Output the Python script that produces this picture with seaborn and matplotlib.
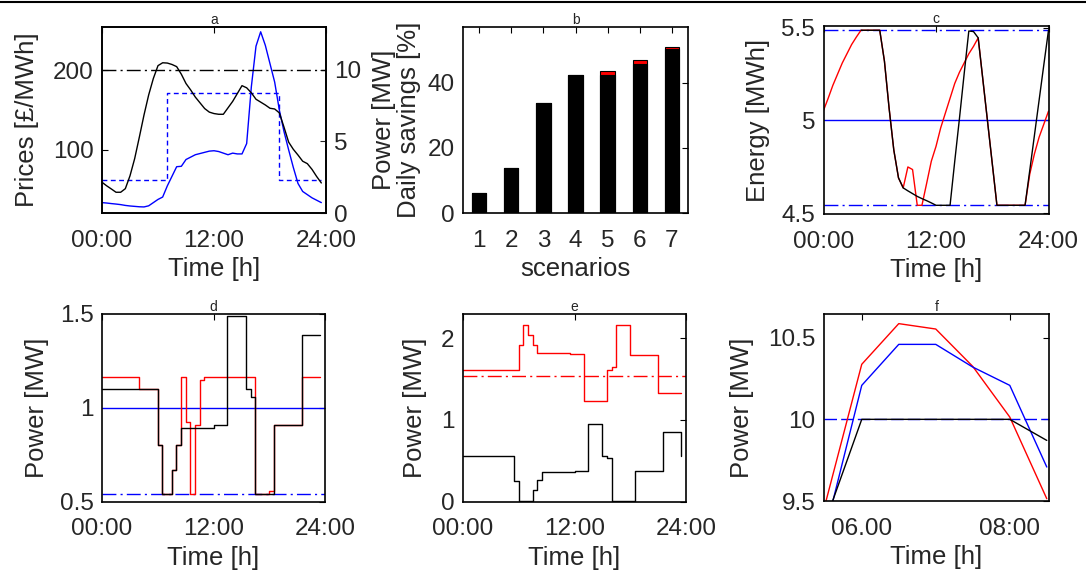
import numpy as np
import matplotlib
matplotlib.use("Agg")
import matplotlib.pyplot as plt
from matplotlib.lines import Line2D
import seaborn as sns

# -------------------------
# Data
# -------------------------

# half-hourly time grid [h]
hours = np.arange(0, 24, 0.5)          # 48 steps, 00:00 .. 23:30
hours_c = np.arange(0, 24.5, 0.5)      # 49 points, 00:00 .. 24:00

# a: power demand [MW] (right axis) and prices [GBP/MWh] (left axis)
demand_a = [2.15, 1.9, 1.68, 1.45, 1.45, 1.7, 2.6, 3.8, 5.3, 6.85, 8.25, 9.4,
            10.3, 10.5, 10.48, 10.38, 10.23, 9.7, 9.05, 8.6, 8.1, 7.7, 7.3, 7.05,
            6.95, 6.9, 6.9, 7.35, 7.8, 8.35, 8.9, 8.75, 8.4, 7.95, 7.75, 7.55,
            7.32, 7.27, 7.0, 6.0, 4.95, 4.45, 4.05, 3.62, 3.45, 3.05, 2.55, 2.1]
price_spot = [34, 33.5, 32.8, 32.2, 31.5, 30.5, 29.8, 29.3, 28.8, 28.6, 30, 34,
              38, 41, 55, 67, 79, 79.5, 88, 91, 94, 95.5, 97, 98.5,
              99, 98, 96, 94, 96, 95, 95, 108, 179, 230, 248, 231,
              208, 185, 150, 123, 100, 78, 58, 48, 44, 40, 37, 34]
price_tariff = [62.5] * 14 + [171] * 24 + [62.5] * 10
power_limit = 10

# b: daily savings [%]
scenarios = ["1", "2", "3", "4", "5", "6", "7"]
savings_base = [6.0, 13.9, 33.9, 42.4, 42.4, 45.9, 50.3]
savings_total = [6.0, 13.9, 33.9, 42.4, 43.7, 46.9, 51.2]

# c: stored energy [MWh] (black trace only visible from 04:00)
energy_red = [5.054, 5.12, 5.19, 5.25, 5.31, 5.36, 5.41, 5.45, 5.487,
              5.487, 5.487, 5.487, 5.487, 5.32, 5.065, 4.84, 4.69, 4.636,
              4.749, 4.735, 4.542, 4.542, 4.66, 4.78, 4.86, 4.96, 5.04, 5.12,
              5.2, 5.26, 5.31, 5.36, 5.40, 5.446, 5.22, 4.994, 4.768,
              4.542, 4.542, 4.542, 4.542, 4.542, 4.542, 4.542,
              4.71, 4.82, 4.91, 4.98, 5.05]
energy_black = [np.nan] * 8 + [5.487] * 5 + [5.32, 5.065, 4.84, 4.69, 4.636,
                4.62, 4.605, 4.59, 4.578, 4.567, 4.555, 4.542,
                4.542, 4.542, 4.542, 4.78, 5.01, 5.25, 5.483, 5.48, 5.446,
                5.22, 4.994, 4.768, 4.542] + [4.542] * 6 + [4.73, 4.92, 5.11, 5.30, 5.487]
energy_nominal = 5.0
energy_max = 5.487
energy_min = 4.542

# d: storage power [MW]
power_d_black = ([1.1] * 12 + [0.8, 0.54, 0.54, 0.67, 0.8] + [0.89] * 7 + [0.91] * 3
                 + [1.49] * 4 + [1.1, 1.055] + [0.54] * 4 + [0.91] * 6 + [1.39] * 5)
power_d_red = ([1.165] * 8 + [1.1] * 4 + [0.8, 0.54, 0.54, 0.67, 0.8, 1.165, 0.925,
               0.54, 0.91, 1.15] + [1.165] * 11 + [0.54] * 3 + [0.555] + [0.91] * 6
               + [1.165] * 5)
power_d_rated = 1.0
power_d_min = 0.54

# e: storage power [MW]
power_e_black = ([0.56] * 11 + [0.257, 0.01, 0.01, 0.01, 0.143, 0.265] + [0.36] * 7
                 + [0.38] * 3 + [0.947] * 3 + [0.563, 0.53] + [0.01] * 5 + [0.38] * 6
                 + [0.85] * 4 + [0.56])
power_e_red = ([1.61] * 12 + [1.92, 2.17, 2.04, 1.92] + [1.825] * 7 + [1.805] * 3
               + [1.233] * 5 + [1.61, 1.653] + [2.17] * 3 + [1.80] * 6 + [1.327] * 6)
power_e_mean = 1.539

# f: zoom on the morning peak [MW]
hours_f = [5.5, 6.0, 6.5, 7.0, 7.5, 8.0, 8.5]
peak_red = [9.47, 10.337, 10.586, 10.553, 10.324, 10.014, 9.514]
peak_blue = [9.30, 10.208, 10.459, 10.459, 10.32, 10.208, 9.708]
peak_black = [9.365, 10.0, 10.0, 10.0, 10.0, 10.0, 9.871]

day_ticks = [0, 12, 24]
day_labels = ["00:00", "12:00", "24:00"]

# -------------------------
# Style
# -------------------------

sns.set_style("white")
plt.rcParams["font.family"] = ["Liberation Sans", "DejaVu Sans"]
plt.rcParams["axes.linewidth"] = 1.2
plt.rcParams["axes.edgecolor"] = "black"

TICK_FS = 17.5
LABEL_FS = 18.5
TITLE_FS = 10
BLUE = "#0000ff"
RED = "#ff0000"
DASHDOT = (10, 3, 1.5, 3)
LW = 1.0

W, H = 1086, 571
fig = plt.figure(figsize=(W / 100, H / 100), dpi=100)


def add_panel(x0, y0, x1, y1):
    # pixel box -> figure fraction
    return fig.add_axes([x0 / W, 1 - y1 / H, (x1 - x0) / W, (y1 - y0) / H])


def style_axis(ax, title, right=True):
    ax.set_title(title, fontsize=TITLE_FS, pad=2)
    ax.tick_params(direction="in", length=4, width=0.8, labelsize=TICK_FS,
                   top=True, right=right, color="black")
    ax.tick_params(axis="x", pad=12)
    ax.tick_params(axis="y", pad=6)
    for s in ax.spines.values():
        s.set_visible(True)
        s.set_color("black")


def day_axis(ax):
    ax.set_xlim(0, 24)
    ax.set_xticks(day_ticks)
    ax.set_xticklabels(day_labels)
    ax.set_xlabel("Time [h]", fontsize=LABEL_FS, labelpad=4)


# -------------------------
# a
# -------------------------
ax_a = add_panel(102, 27, 326, 213)
sns.lineplot(x=hours, y=price_spot, ax=ax_a, color=BLUE, lw=LW)
sns.lineplot(x=hours, y=price_tariff, ax=ax_a, color=BLUE, lw=LW,
             drawstyle="steps-post").lines[-1].set_dashes((3.5, 2.5))
ax_a.set_ylim(21, 254)
ax_a.set_yticks([100, 200])
ax_a.set_ylabel("Prices [£/MWh]", fontsize=LABEL_FS, labelpad=10)
style_axis(ax_a, "a", right=False)
day_axis(ax_a)

ax_a2 = ax_a.twinx()
sns.lineplot(x=hours, y=demand_a, ax=ax_a2, color="black", lw=LW)
ax_a2.axhline(power_limit, color="black", lw=LW, dashes=DASHDOT)
ax_a2.set_ylim(0, 13)
ax_a2.set_yticks([0, 5, 10])
ax_a2.set_ylabel("Power [MW]", fontsize=LABEL_FS, labelpad=7.5)
ax_a2.tick_params(direction="in", length=4, width=0.8, labelsize=TICK_FS, pad=6)
ax_a2.set_xlim(0, 24)

# -------------------------
# b
# -------------------------
ax_b = add_panel(463, 27, 688, 213)
sns.barplot(x=scenarios, y=savings_total, ax=ax_b, color=RED, saturation=1,
            width=0.45, edgecolor="black", linewidth=0.8)
sns.barplot(x=scenarios, y=savings_base, ax=ax_b, color="black", saturation=1,
            width=0.45, edgecolor="black", linewidth=0.8)
ax_b.set_xlim(-0.5, 6.5)
ax_b.set_ylim(0, 57.2)
ax_b.set_yticks([0, 20, 40])
ax_b.set_ylabel("Daily savings [%]", fontsize=LABEL_FS, labelpad=5)
ax_b.set_xlabel("scenarios", fontsize=LABEL_FS, labelpad=4)
style_axis(ax_b, "b")

# -------------------------
# c
# -------------------------
ax_c = add_panel(823.5, 26, 1048.5, 214)
ax_c.axhline(energy_nominal, color=BLUE, lw=LW)
ax_c.axhline(energy_max, color=BLUE, lw=LW, dashes=DASHDOT)
ax_c.axhline(energy_min, color=BLUE, lw=LW, dashes=DASHDOT)
sns.lineplot(x=hours_c, y=energy_red, ax=ax_c, color=RED, lw=LW)
sns.lineplot(x=hours_c, y=energy_black, ax=ax_c, color="black", lw=LW)
ax_c.set_ylim(4.495, 5.51)
ax_c.set_yticks([4.5, 5, 5.5])
ax_c.set_yticklabels(["4.5", "5", "5.5"])
ax_c.set_ylabel("Energy [MWh]", fontsize=LABEL_FS, labelpad=8)
style_axis(ax_c, "c")
day_axis(ax_c)

# -------------------------
# d
# -------------------------
ax_d = add_panel(102, 314, 325, 501.5)
ax_d.axhline(power_d_rated, color=BLUE, lw=LW)
ax_d.axhline(power_d_min, color=BLUE, lw=LW, dashes=DASHDOT)
sns.lineplot(x=hours, y=power_d_red, ax=ax_d, color=RED, lw=LW, drawstyle="steps-post")
sns.lineplot(x=hours, y=power_d_black, ax=ax_d, color="black", lw=LW, drawstyle="steps-post")
ax_d.set_ylim(0.5, 1.5)
ax_d.set_yticks([0.5, 1, 1.5])
ax_d.set_yticklabels(["0.5", "1", "1.5"])
ax_d.set_ylabel("Power [MW]", fontsize=LABEL_FS, labelpad=8)
style_axis(ax_d, "d")
day_axis(ax_d)

# -------------------------
# e
# -------------------------
ax_e = add_panel(463, 314, 686, 501.5)
ax_e.axhline(power_e_mean, color=RED, lw=LW, dashes=DASHDOT)
sns.lineplot(x=hours, y=power_e_red, ax=ax_e, color=RED, lw=LW, drawstyle="steps-post")
sns.lineplot(x=hours, y=power_e_black, ax=ax_e, color="black", lw=LW, drawstyle="steps-post")
ax_e.set_ylim(0, 2.3)
ax_e.set_yticks([0, 1, 2])
ax_e.set_ylabel("Power [MW]", fontsize=LABEL_FS, labelpad=10)
style_axis(ax_e, "e")
day_axis(ax_e)

# -------------------------
# f
# -------------------------
ax_f = add_panel(824, 314, 1049, 501)
ax_f.axhline(power_limit, color=BLUE, lw=LW, dashes=(9, 3))
sns.lineplot(x=hours_f, y=peak_red, ax=ax_f, color=RED, lw=LW)
sns.lineplot(x=hours_f, y=peak_blue, ax=ax_f, color=BLUE, lw=LW)
sns.lineplot(x=hours_f, y=peak_black, ax=ax_f, color="black", lw=LW)
ax_f.set_xlim(5.49, 8.53)
ax_f.set_ylim(9.5, 10.645)
ax_f.set_xticks([6, 8])
ax_f.set_xticklabels(["06.00", "08:00"])
ax_f.set_yticks([9.5, 10, 10.5])
ax_f.set_yticklabels(["9.5", "10", "10.5"])
ax_f.set_ylabel("Power [MW]", fontsize=LABEL_FS, labelpad=10)
ax_f.set_xlabel("Time [h]", fontsize=LABEL_FS, labelpad=4)
style_axis(ax_f, "f")

# rule across the top of the page
fig.add_artist(Line2D([0, 1], [1 - 1.5 / H, 1 - 1.5 / H], transform=fig.transFigure,
                      color="black", lw=1.5))

fig.savefig("out.png", dpi=100)
